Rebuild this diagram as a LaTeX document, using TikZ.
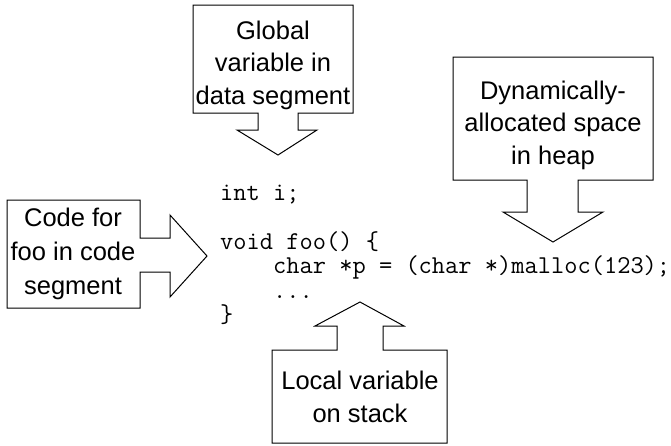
\documentclass[tikz,border=0pt]{standalone}
\usepackage{fontspec}
\setmainfont{Liberation Sans}
\begin{document}
\begin{tikzpicture}[x=1pt,y=-1pt,
  callout/.style={draw=black,line width=1pt,line join=miter,fill=white},
  note/.style={align=center,inner sep=0pt,font=\fontsize{25.5}{32.5}\selectfont},
  code/.style={align=left,inner sep=0pt,font=\ttfamily\fontsize{25.7}{24.5}\selectfont}]
\useasboundingbox (0,0) rectangle (671,445);

% callout pointing down at the global variable
\draw[callout] (193,5) -- (353,5) -- (353,113) -- (298,113) -- (298,130) -- (317,130)
  -- (278,155) -- (237,130) -- (258,130) -- (258,113) -- (193,113) -- cycle;
% callout pointing right at the function
\draw[callout] (7,200) -- (140,200) -- (140,238) -- (170,238) -- (170,215)
  -- (207,256) -- (170,297) -- (170,272) -- (140,272) -- (140,308) -- (7,308) -- cycle;
% callout pointing down at the malloc call
\draw[callout] (453,57) -- (653,57) -- (653,180) -- (578,180) -- (578,212) -- (603,212)
  -- (553,242) -- (503,212) -- (527,212) -- (527,180) -- (453,180) -- cycle;
% callout pointing up at the local variable
\draw[callout] (272,443) -- (272,350) -- (337,350) -- (337,326) -- (315,326)
  -- (360,302) -- (404,326) -- (383,326) -- (383,350) -- (447,350) -- (447,443) -- cycle;

\node[note] (global) at (273,65) {Global\\variable in\\data segment};
\node[note,font=\fontsize{25.5}{34}\selectfont] (codeseg) at (73,254) {Code for\\foo in code\\segment};
\node[note] (heap) at (553,125) {Dynamically-\\allocated space\\in heap};
\node[note] (stack) at (360,397) {Local variable\\on stack};

% the C fragment, one line per row, body indented by four columns
\node[code,anchor=west] (code) at (220,255)
  {int i;\\[24.5pt]
   void foo() \{\\
   \phantom{void}char *p = (char *)malloc(123);\\
   \phantom{void}...\\
   \}};
\end{tikzpicture}
\end{document}
